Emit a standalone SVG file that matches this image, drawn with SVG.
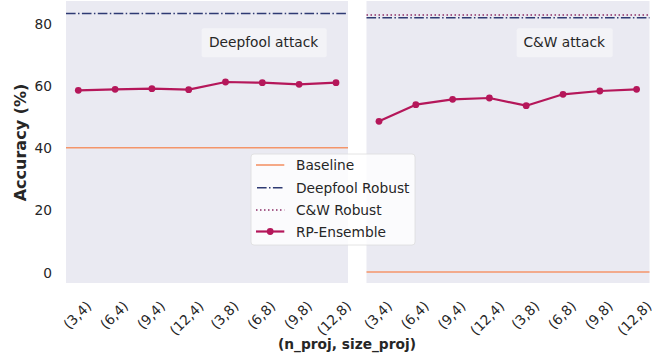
<svg xmlns="http://www.w3.org/2000/svg" width="652" height="363" viewBox="0 0 652 363">
<style>
text{font-family:"DejaVu Sans","Liberation Sans",sans-serif;font-size:13.75px;fill:#262626}
.bold{font-weight:bold}
.ylab{font-size:16px}
.panel{fill:#eaeaf2}
.base{stroke:#f4956a;stroke-width:1.6;fill:none}
.df{stroke:#2e3a73;stroke-width:1.6;stroke-dasharray:9.6 2.4 1.5 2.4;fill:none}
.cw{stroke:#8c2d66;stroke-width:1.6;stroke-dasharray:1.5 2.5;fill:none}
.rp{stroke:#b5175a;stroke-width:2.2;fill:none;stroke-linejoin:round}
.mk{fill:#b5175a}
.tick{text-anchor:middle;dominant-baseline:central}
.ytick{text-anchor:end}
.ann{fill:#f3f3f7;stroke:none}
</style>
<rect width="652" height="363" fill="#ffffff"/>
<g id="panel-left">
<rect class="panel" x="66" y="1" width="282" height="282"/>
</g>
<g id="panel-right">
<rect class="panel" x="366.5" y="1" width="283" height="282"/>
</g>
<g id="y-axis">
<text class="ytick" x="52" y="29.3">80</text>
<text class="ytick" x="52" y="91">60</text>
<text class="ytick" x="52" y="152.7">40</text>
<text class="ytick" x="52" y="215">20</text>
<text class="ytick" x="52" y="277.5">0</text>
<text class="bold ylab" text-anchor="middle" transform="translate(25.5,142.5) rotate(-90)">Accuracy (%)</text>
</g>
<g id="connectors">
<line class="base" x1="66" y1="147.8" x2="348" y2="147.8"/>
<line class="df" x1="66" y1="13.5" x2="348" y2="13.5"/>
<polyline class="rp" points="78.3,90.3 115.1,89.3 151.9,88.7 188.7,89.7 225.5,82 262.3,82.7 299.1,84.3 336,82.7"/>
<line class="base" x1="366.5" y1="272" x2="649.5" y2="272"/>
<line class="cw" x1="366.5" y1="15" x2="649.5" y2="15"/>
<line class="df" x1="366.5" y1="17.8" x2="649.5" y2="17.8"/>
<polyline class="rp" points="379,121.3 415.8,104.7 452.6,99.3 489.4,98 526.2,105.7 563,94.3 599.8,91 636.6,89.3"/>
</g>
<g id="markers">
<circle class="mk" cx="78.3" cy="90.3" r="3.4"/>
<circle class="mk" cx="115.1" cy="89.3" r="3.4"/>
<circle class="mk" cx="151.9" cy="88.7" r="3.4"/>
<circle class="mk" cx="188.7" cy="89.7" r="3.4"/>
<circle class="mk" cx="225.5" cy="82" r="3.4"/>
<circle class="mk" cx="262.3" cy="82.7" r="3.4"/>
<circle class="mk" cx="299.1" cy="84.3" r="3.4"/>
<circle class="mk" cx="336" cy="82.7" r="3.4"/>
<circle class="mk" cx="379" cy="121.3" r="3.4"/>
<circle class="mk" cx="415.8" cy="104.7" r="3.4"/>
<circle class="mk" cx="452.6" cy="99.3" r="3.4"/>
<circle class="mk" cx="489.4" cy="98" r="3.4"/>
<circle class="mk" cx="526.2" cy="105.7" r="3.4"/>
<circle class="mk" cx="563" cy="94.3" r="3.4"/>
<circle class="mk" cx="599.8" cy="91" r="3.4"/>
<circle class="mk" cx="636.6" cy="89.3" r="3.4"/>
</g>
<g id="annotation-deepfool">
<rect class="ann" x="201.7" y="28.3" width="125" height="29" rx="2"/>
<text x="209" y="47">Deepfool attack</text>
</g>
<g id="annotation-cw">
<rect class="ann" x="516.7" y="28.3" width="96" height="29" rx="2"/>
<text x="523.5" y="47">C&amp;W attack</text>
</g>
<g id="x-ticks">
<text class="tick" transform="translate(77.3,315) rotate(-45)">(3,4)</text>
<text class="tick" transform="translate(114.1,315) rotate(-45)">(6,4)</text>
<text class="tick" transform="translate(150.9,315) rotate(-45)">(9,4)</text>
<text class="tick" transform="translate(186.5,318) rotate(-45)">(12,4)</text>
<text class="tick" transform="translate(224.5,315) rotate(-45)">(3,8)</text>
<text class="tick" transform="translate(261.3,315) rotate(-45)">(6,8)</text>
<text class="tick" transform="translate(298.1,315) rotate(-45)">(9,8)</text>
<text class="tick" transform="translate(333.8,318) rotate(-45)">(12,8)</text>
<text class="tick" transform="translate(378,315) rotate(-45)">(3,4)</text>
<text class="tick" transform="translate(414.8,315) rotate(-45)">(6,4)</text>
<text class="tick" transform="translate(451.6,315) rotate(-45)">(9,4)</text>
<text class="tick" transform="translate(487.2,318) rotate(-45)">(12,4)</text>
<text class="tick" transform="translate(525.2,315) rotate(-45)">(3,8)</text>
<text class="tick" transform="translate(562,315) rotate(-45)">(6,8)</text>
<text class="tick" transform="translate(598.8,315) rotate(-45)">(9,8)</text>
<text class="tick" transform="translate(634.4,318) rotate(-45)">(12,8)</text>
<text class="bold" x="347" y="348.5" text-anchor="middle">(n_proj, size_proj)</text>
</g>
<g id="legend">
<rect x="251" y="154" width="164" height="91" rx="3" fill="#ffffff" fill-opacity="0.8" stroke="#dddddd" stroke-width="0.8"/>
<line class="base" x1="256" y1="165" x2="284.3" y2="165"/>
<text x="296" y="170">Baseline</text>
<line class="df" x1="256" y1="187.7" x2="284.3" y2="187.7" stroke-dashoffset="-1"/>
<text x="296" y="192.7">Deepfool Robust</text>
<line class="cw" x1="256" y1="210" x2="284.3" y2="210"/>
<text x="296" y="215">C&amp;W Robust</text>
<line class="rp" x1="256" y1="231.5" x2="284.3" y2="231.5"/>
<circle class="mk" cx="270.2" cy="231.5" r="3.4"/>
<text x="296" y="236.5">RP-Ensemble</text>
</g>
</svg>
